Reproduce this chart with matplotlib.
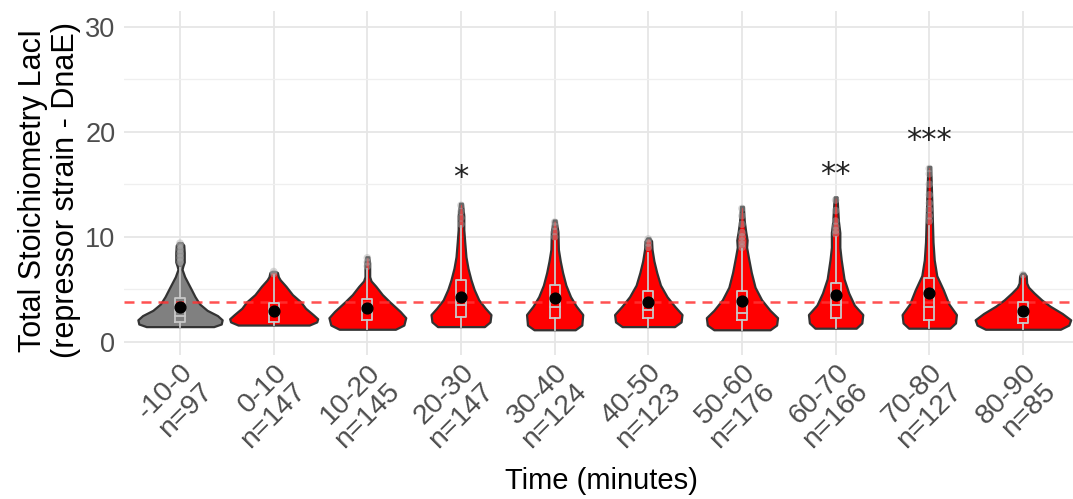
import matplotlib
matplotlib.use("Agg")
import matplotlib.pyplot as plt

# ---------------- data ----------------
categories = ["-10-0", "0-10", "10-20", "20-30", "30-40",
              "40-50", "50-60", "60-70", "70-80", "80-90"]
counts = [97, 147, 145, 147, 124, 123, 176, 166, 127, 85]

# violin outlines: y levels and half-widths (category units)
violin_y = [
    [1.45, 1.7, 2.1, 2.5, 3.0, 3.6, 4.3, 5.0, 5.6, 6.2, 6.9, 7.2, 7.6, 8.5, 9.2, 9.45],
    [1.6, 1.9, 2.2, 2.6, 3.2, 3.8, 4.5, 5.3, 5.9, 6.2, 6.6, 6.7],
    [1.2, 1.6, 2.3, 2.9, 3.8, 4.5, 5.3, 5.8, 6.2, 7.5, 8.1],
    [1.45, 1.9, 2.6, 3.2, 4.0, 5.0, 5.9, 7.0, 8.1, 9.5, 10.7, 12.0, 13.2],
    [1.15, 1.6, 2.6, 3.4, 4.3, 5.4, 6.6, 7.7, 8.8, 10.5, 11.6],
    [1.45, 1.9, 2.6, 3.4, 4.3, 5.4, 6.6, 7.7, 8.8, 9.6, 9.9],
    [1.15, 1.6, 2.3, 3.0, 4.0, 5.2, 6.6, 8.0, 9.0, 9.7, 10.5, 11.5, 12.9],
    [1.3, 1.8, 2.6, 3.5, 4.65, 6.0, 7.8, 9.0, 10.4, 11.5, 13.8],
    [1.3, 1.8, 2.6, 3.6, 4.95, 6.3, 7.8, 9.5, 11.9, 14.0, 16.7],
    [1.2, 1.6, 2.1, 2.7, 3.4, 4.0, 4.65, 5.2, 5.6, 6.3, 6.55],
]
violin_w = [
    [0.36, 0.44, 0.45, 0.40, 0.29, 0.21, 0.16, 0.12, 0.085, 0.05, 0.022, 0.03, 0.045, 0.045, 0.04, 0.02],
    [0.38, 0.46, 0.47, 0.42, 0.34, 0.29, 0.20, 0.13, 0.07, 0.05, 0.04, 0.02],
    [0.30, 0.39, 0.41, 0.35, 0.24, 0.16, 0.09, 0.04, 0.025, 0.025, 0.015],
    [0.25, 0.31, 0.32, 0.26, 0.19, 0.14, 0.107, 0.075, 0.053, 0.04, 0.03, 0.03, 0.015],
    [0.22, 0.29, 0.30, 0.23, 0.17, 0.12, 0.085, 0.06, 0.04, 0.035, 0.015],
    [0.28, 0.35, 0.36, 0.28, 0.20, 0.13, 0.09, 0.06, 0.04, 0.035, 0.015],
    [0.30, 0.37, 0.38, 0.30, 0.21, 0.14, 0.10, 0.07, 0.05, 0.055, 0.04, 0.025, 0.015],
    [0.22, 0.28, 0.29, 0.20, 0.14, 0.09, 0.06, 0.045, 0.045, 0.03, 0.015],
    [0.22, 0.28, 0.29, 0.21, 0.15, 0.08, 0.053, 0.04, 0.032, 0.025, 0.015],
    [0.40, 0.49, 0.51, 0.42, 0.29, 0.20, 0.12, 0.06, 0.04, 0.035, 0.015],
]

# boxplot statistics
q1 = [1.9, 1.9, 2.1, 2.4, 2.3, 2.3, 2.1, 2.3, 2.1, 1.8]
median = [2.5, 2.6, 2.8, 3.5, 3.3, 3.05, 2.75, 3.5, 3.3, 2.4]
q3 = [4.2, 3.7, 4.1, 5.9, 5.4, 4.8, 4.8, 5.6, 6.1, 3.75]
whisk_lo = [1.45, 1.6, 1.2, 1.45, 1.15, 1.45, 1.15, 1.3, 1.3, 1.2]
whisk_hi = [7.0, 6.4, 6.9, 11.0, 9.6, 8.5, 8.8, 10.0, 11.0, 6.3]
means = [3.35, 2.95, 3.2, 4.3, 4.2, 3.75, 3.85, 4.5, 4.65, 2.95]
outliers = [
    [7.6, 8.0, 8.4, 8.8, 9.2, 9.4],
    [6.5, 6.7],
    [7.2, 7.6, 8.0],
    [11.2, 11.8, 12.4, 13.0],
    [10.0, 10.5, 11.0, 11.4],
    [9.0, 9.4, 9.8],
    [9.0, 9.3, 9.6, 10.0, 10.4, 11.2, 12.0, 12.7],
    [10.3, 10.6, 11.0, 11.5, 12.5, 13.5],
    [11.5, 12.0, 12.6, 13.2, 14.0, 15.0, 16.0, 16.5],
    [6.4],
]

reference_level = 3.8
sig_labels = {"20-30": ("*", 15.6), "60-70": ("**", 15.9), "70-80": ("***", 19.2)}

fill_colors = ["#808080"] + ["#FF0000"] * 9

plt.rcParams["font.family"] = ["Liberation Sans", "DejaVu Sans"]

# ---------------- figure ----------------
fig = plt.figure(figsize=(10.73, 4.99), dpi=100)
ax = fig.add_axes([0.1154, 0.2886, 0.8903, 0.6894])
ax.set_xlim(0.4, 10.6)
ax.set_ylim(-1.25, 31.5)

for s in ax.spines.values():
    s.set_visible(False)

ax.set_yticks([0, 10, 20, 30])
ax.set_yticks([5, 15, 25], minor=True)
positions = list(range(1, len(categories) + 1))
ax.set_xticks(positions)
ax.set_xticklabels([f"{c}\nn={n}" for c, n in zip(categories, counts)],
                   rotation=45, ha="right", va="top", rotation_mode="anchor",
                   fontsize=20.5, color="#4d4d4d", linespacing=1.05)
ax.tick_params(axis="both", which="both", length=0)
ax.tick_params(axis="x", pad=3)
ax.tick_params(axis="y", labelsize=19.5, labelcolor="#4d4d4d", pad=6)
ax.grid(True, which="major", color="#e6e6e6", linewidth=1.3, zorder=0)
ax.grid(True, which="minor", axis="y", color="#efefef", linewidth=0.9, zorder=0)
ax.set_axisbelow(True)

# violins
for i, p in enumerate(positions):
    ys = violin_y[i]
    ws = violin_w[i]
    ax.fill_betweenx(ys, [p - w for w in ws], [p + w for w in ws],
                     facecolor=fill_colors[i], edgecolor="#333333",
                     linewidth=1.6, joinstyle="round", zorder=2)

# dashed reference line
ax.axhline(reference_level, color="#FF3333", linestyle=(0, (4, 2.8)),
           linewidth=1.8, alpha=0.85, zorder=3)

# boxplots
bw = 0.053
for i, p in enumerate(positions):
    c = "#c8c8c8"
    ax.plot([p - bw, p + bw, p + bw, p - bw, p - bw],
            [q1[i], q1[i], q3[i], q3[i], q1[i]], color=c, lw=1.3, zorder=4)
    ax.plot([p - bw, p + bw], [median[i], median[i]], color=c, lw=1.3, zorder=4)
    ax.plot([p, p], [q3[i], whisk_hi[i]], color=c, lw=1.3, zorder=4)
    ax.plot([p, p], [whisk_lo[i], q1[i]], color=c, lw=1.3, zorder=4)
    ax.scatter([p] * len(outliers[i]), outliers[i], s=30, color="#aaaaaa",
               alpha=0.45, edgecolors="none", zorder=4)
    ax.scatter([p], [means[i]], s=60, color="black", zorder=5)

# significance stars
for cat, (lab, yv) in sig_labels.items():
    p = positions[categories.index(cat)]
    ax.text(p, yv, lab, ha="center", va="center", fontsize=22,
            family="DejaVu Sans", color="#222222")

ax.set_xlabel("Time (minutes)", fontsize=21, color="black")
ax.xaxis.set_label_coords(0.5, -0.326)
ax.set_ylabel("Total Stoichiometry LacI\n(repressor strain - DnaE)",
              fontsize=22, color="black", linespacing=1.15)
ax.yaxis.set_label_coords(-0.0445, 0.48)

fig.savefig("out.png", dpi=100)
